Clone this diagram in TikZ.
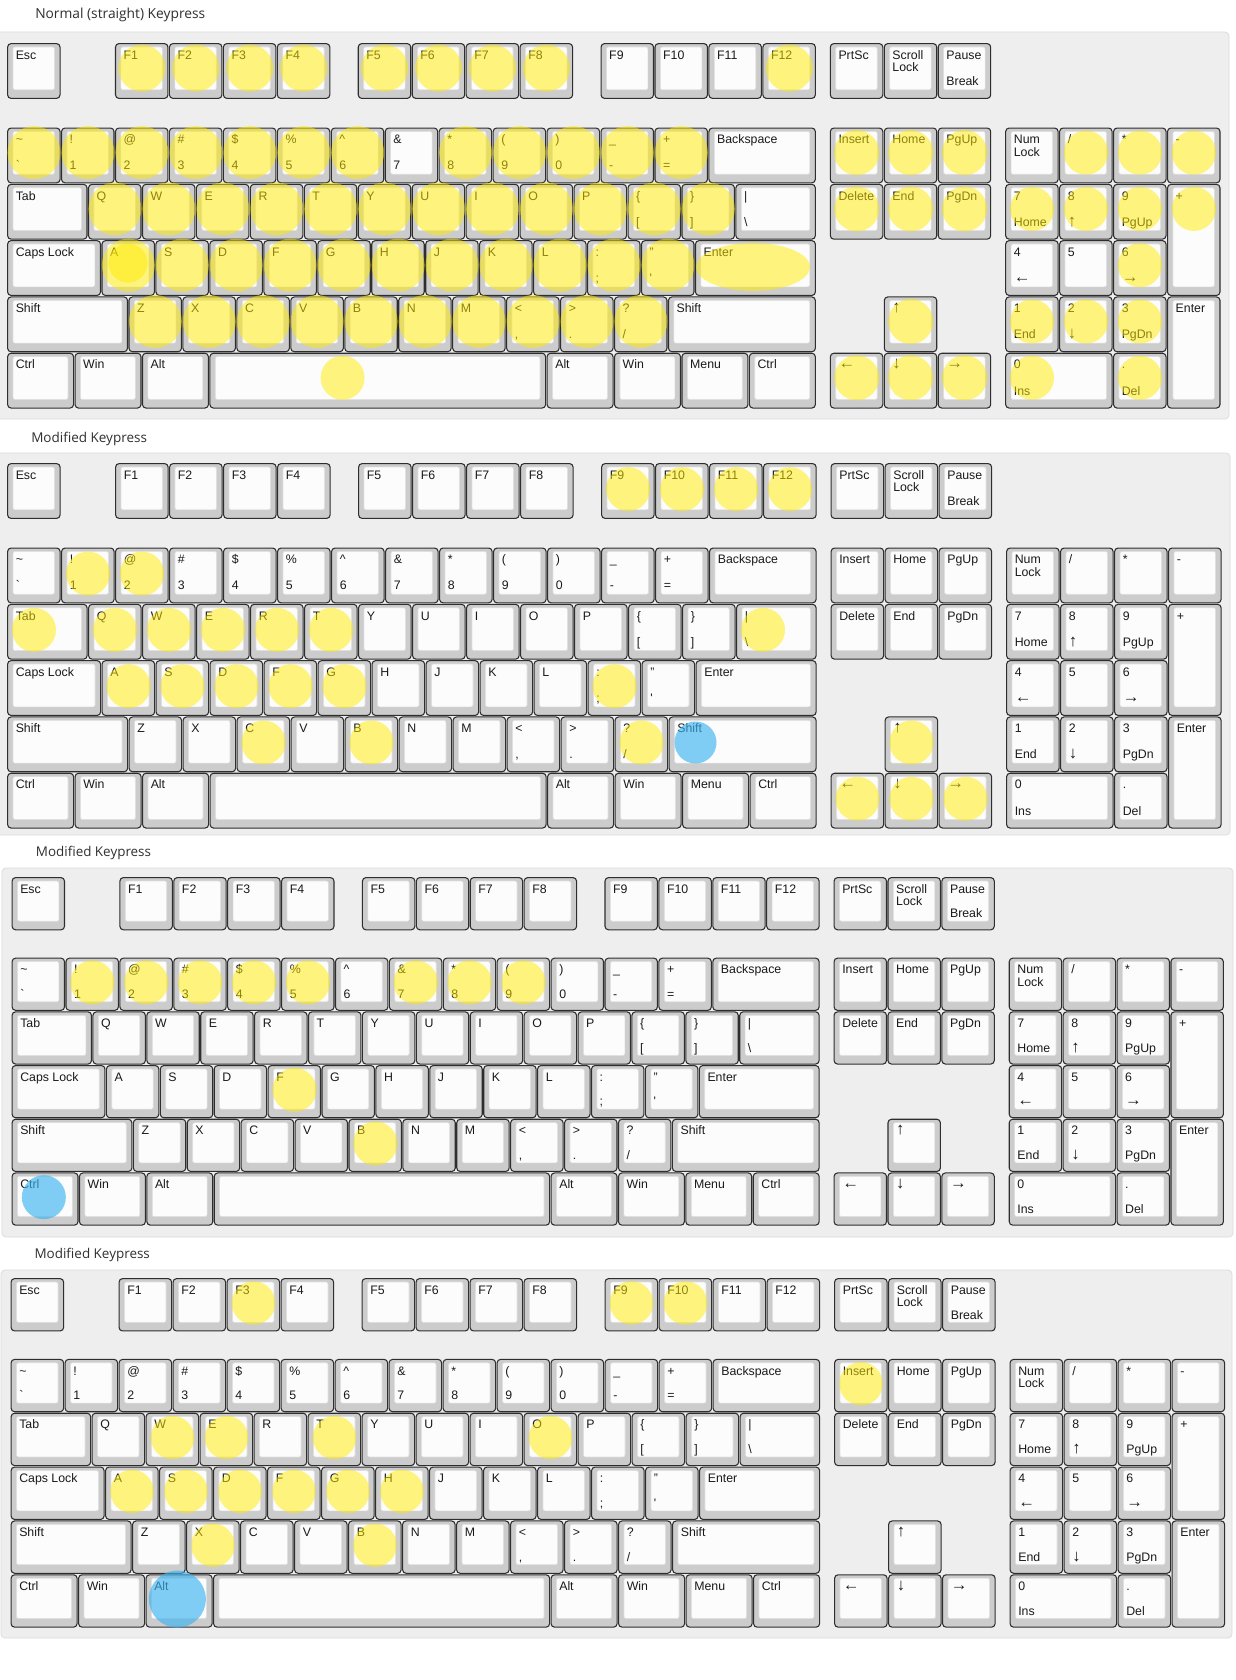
\documentclass[tikz,border=0pt]{standalone}
\usepackage{fontspec}
\usepackage{graphicx}
\setmainfont{Liberation Sans}
\newfontfamily\titlefont{Open Sans}

\definecolor{panel}{HTML}{EEEEEE}
\definecolor{paneledge}{HTML}{DCDCDC}
\definecolor{rim}{HTML}{CCCCCC}
\definecolor{cap}{HTML}{FCFCFC}
\definecolor{capedge}{HTML}{E0E0E0}
\definecolor{edge}{HTML}{2E2E2E}
\definecolor{labc}{HTML}{1A1A1A}
\definecolor{titlec}{HTML}{303030}
\definecolor{hly}{RGB}{255,235,0}
\definecolor{hlb}{RGB}{60,180,240}

\tikzset{
  keyouter/.style={fill=rim, draw=edge, line width=0.8pt, rounded corners=2.6pt},
  keyinner/.style={fill=cap, draw=capedge, line width=0.5pt, rounded corners=1.5pt},
  keylab/.style={anchor=base west, inner sep=0pt, font=\fontsize{9.25}{11}\selectfont, text=labc},
  hlyel/.style={fill=hly, fill opacity=0.5},
  hlblue/.style={fill=hlb, fill opacity=0.65},
  panelbox/.style={fill=panel, draw=paneledge, line width=0.6pt, rounded corners=3pt},
  titletext/.style={anchor=base west, inner sep=0pt, text=titlec},
}

\newcommand\arr[1]{{\fontsize{12.5}{12.5}\selectfont #1}}

\newcount\labn
\newcommand\SetKB[5]{\def\kbx{#1}\def\kby{#2}\def\kbu{#3}\def\kbv{#4}\def\kbdy{#5}}
% x y w h top bottom
\newcommand\Key[6]{%
  \pgfmathsetmacro\kxa{\kbx+(#1)*\kbu}%
  \pgfmathsetmacro\kya{\kby+(#2)*\kbv}%
  \pgfmathsetmacro\kxb{\kxa+(#3)*\kbu}%
  \pgfmathsetmacro\kyb{\kya+(#4)*\kbv}%
  \pgfmathsetmacro\kyc{\kya+0.59*\kbv+9.3}%
  \filldraw[keyouter] (\kxa+0.6,\kya+0.6) rectangle (\kxb-0.9,\kyb-0.9);
  \filldraw[keyinner] (\kxa+6,\kya+4) rectangle (\kxb-6.5,\kyb-9.5);
  \global\advance\labn by 1
  \node[keylab] (L\the\labn) at (\kxa+8.5,\kya+16.3) {#5};
  \global\advance\labn by 1
  \node[keylab] (L\the\labn) at (\kxa+8.5,\kyc) {#6};
}
\newcommand\K[4]{\Key{#1}{#2}{1}{1}{#3}{#4}}
\newcommand\Lb[2]{%
  \global\advance\labn by 1
  \node[keylab] (L\the\labn) at (\kxa+8.5,\kya+#1) {#2};}
\newcommand\HL[3]{%
  \pgfmathsetmacro\hcx{\kbx+(#1)*\kbu}%
  \pgfmathsetmacro\hcy{\kby+(#2)*\kbv+(\kbdy)}%
  \fill[hlyel] (\hcx,\hcy) circle[radius=#3];}
\newcommand\HB[3]{%
  \pgfmathsetmacro\hcx{\kbx+(#1)*\kbu}%
  \pgfmathsetmacro\hcy{\kby+(#2)*\kbv+(\kbdy)}%
  \fill[hlblue] (\hcx,\hcy) circle[radius=#3];}

\newcommand\AllKeys{%
  % function row
  \K{0}{0}{Esc}{}%
  \K{2}{0}{F1}{}\K{3}{0}{F2}{}\K{4}{0}{F3}{}\K{5}{0}{F4}{}%
  \K{6.5}{0}{F5}{}\K{7.5}{0}{F6}{}\K{8.5}{0}{F7}{}\K{9.5}{0}{F8}{}%
  \K{11}{0}{F9}{}\K{12}{0}{F10}{}\K{13}{0}{F11}{}\K{14}{0}{F12}{}%
  \K{15.25}{0}{PrtSc}{}\K{16.25}{0}{Scroll}{}\Lb{28.8}{Lock}\K{17.25}{0}{Pause}{Break}%
  % number row
  \K{0}{1.5}{\textasciitilde}{\textasciigrave}\K{1}{1.5}{!}{1}\K{2}{1.5}{@}{2}\K{3}{1.5}{\#}{3}%
  \K{4}{1.5}{\$}{4}\K{5}{1.5}{\%}{5}\K{6}{1.5}{\textasciicircum}{6}\K{7}{1.5}{\&}{7}%
  \K{8}{1.5}{*}{8}\K{9}{1.5}{(}{9}\K{10}{1.5}{)}{0}\K{11}{1.5}{\_}{-}\K{12}{1.5}{+}{=}%
  \Key{13}{1.5}{2}{1}{Backspace}{}%
  \K{15.25}{1.5}{Insert}{}\K{16.25}{1.5}{Home}{}\K{17.25}{1.5}{PgUp}{}%
  \K{18.5}{1.5}{Num}{}\Lb{28.8}{Lock}\K{19.5}{1.5}{/}{}\K{20.5}{1.5}{*}{}\K{21.5}{1.5}{-}{}%
  % tab row
  \Key{0}{2.5}{1.5}{1}{Tab}{}%
  \K{1.5}{2.5}{Q}{}\K{2.5}{2.5}{W}{}\K{3.5}{2.5}{E}{}\K{4.5}{2.5}{R}{}\K{5.5}{2.5}{T}{}%
  \K{6.5}{2.5}{Y}{}\K{7.5}{2.5}{U}{}\K{8.5}{2.5}{I}{}\K{9.5}{2.5}{O}{}\K{10.5}{2.5}{P}{}%
  \K{11.5}{2.5}{\{}{[}\K{12.5}{2.5}{\}}{]}\Key{13.5}{2.5}{1.5}{1}{|}{\textbackslash}%
  \K{15.25}{2.5}{Delete}{}\K{16.25}{2.5}{End}{}\K{17.25}{2.5}{PgDn}{}%
  \K{18.5}{2.5}{7}{Home}\K{19.5}{2.5}{8}{\arr{↑}}\K{20.5}{2.5}{9}{PgUp}\Key{21.5}{2.5}{1}{2}{+}{}%
  % caps row
  \Key{0}{3.5}{1.75}{1}{Caps Lock}{}%
  \K{1.75}{3.5}{A}{}\K{2.75}{3.5}{S}{}\K{3.75}{3.5}{D}{}\K{4.75}{3.5}{F}{}\K{5.75}{3.5}{G}{}%
  \K{6.75}{3.5}{H}{}\K{7.75}{3.5}{J}{}\K{8.75}{3.5}{K}{}\K{9.75}{3.5}{L}{}%
  \K{10.75}{3.5}{:}{;}\K{11.75}{3.5}{"}{\textquotesingle}\Key{12.75}{3.5}{2.25}{1}{Enter}{}%
  \K{18.5}{3.5}{4}{\arr{←}}\K{19.5}{3.5}{5}{}\K{20.5}{3.5}{6}{\arr{→}}%
  % shift row
  \Key{0}{4.5}{2.25}{1}{Shift}{}%
  \K{2.25}{4.5}{Z}{}\K{3.25}{4.5}{X}{}\K{4.25}{4.5}{C}{}\K{5.25}{4.5}{V}{}\K{6.25}{4.5}{B}{}%
  \K{7.25}{4.5}{N}{}\K{8.25}{4.5}{M}{}\K{9.25}{4.5}{<}{,}\K{10.25}{4.5}{>}{.}\K{11.25}{4.5}{?}{/}%
  \Key{12.25}{4.5}{2.75}{1}{Shift}{}%
  \K{16.25}{4.5}{\arr{↑}}{}%
  \K{18.5}{4.5}{1}{End}\K{19.5}{4.5}{2}{\arr{↓}}\K{20.5}{4.5}{3}{PgDn}\Key{21.5}{4.5}{1}{2}{Enter}{}%
  % bottom row
  \Key{0}{5.5}{1.25}{1}{Ctrl}{}\Key{1.25}{5.5}{1.25}{1}{Win}{}\Key{2.5}{5.5}{1.25}{1}{Alt}{}%
  \Key{3.75}{5.5}{6.25}{1}{}{}%
  \Key{10}{5.5}{1.25}{1}{Alt}{}\Key{11.25}{5.5}{1.25}{1}{Win}{}\Key{12.5}{5.5}{1.25}{1}{Menu}{}\Key{13.75}{5.5}{1.25}{1}{Ctrl}{}%
  \K{15.25}{5.5}{\arr{←}}{}\K{16.25}{5.5}{\arr{↓}}{}\K{17.25}{5.5}{\arr{→}}{}%
  \Key{18.5}{5.5}{2}{1}{0}{Ins}\K{20.5}{5.5}{.}{Del}%
}

\begin{document}
\begin{tikzpicture}[x=0.75pt,y=-0.75pt]
\useasboundingbox (0,0) rectangle (1235,1680);
\fill[white] (0,0) rectangle (1235,1680);

% panels
\filldraw[panelbox] (-4,32) rectangle (1229,419);
\filldraw[panelbox] (-4,453) rectangle (1230,835);
\filldraw[panelbox] (2,868) rectangle (1233,1237);
\filldraw[panelbox] (1,1270) rectangle (1232,1638);

% titles
\node[titletext] (t1) at (35,18.7) {\resizebox{127.5pt}{!}{\titlefont Normal (straight) Keypress}};
\node[titletext] (t2) at (31,442.3) {\resizebox{86.8pt}{!}{\titlefont Modified Keypress}};
\node[titletext] (t3) at (35.7,856.7) {\resizebox{86.3pt}{!}{\titlefont Modified Keypress}};
\node[titletext] (t4) at (34.3,1258.8) {\resizebox{86.5pt}{!}{\titlefont Modified Keypress}};

% ===== keyboard 1 =====
\SetKB{7}{43}{53.95}{56.3}{-3}
\AllKeys
\foreach \q in {2.5,3.5,4.5,5.5,7,8,9,10,14.5}{\HL{\q}{0.5}{23.5}}
\foreach \q in {0.5,1.5,2.5,3.5,4.5,5.5,6.5,8.5,9.5,10.5,11.5,12.5}{\HL{\q}{2.0}{26.5}}
\foreach \q in {2,3,4,5,6,7,8,9,10,11,12,13}{\HL{\q}{3.0}{26.5}}
\foreach \q in {2.25,3.25,4.25,5.25,6.25,7.25,8.25,9.25,10.25,11.25,12.25}{\HL{\q}{4.0}{26.5}}
\foreach \q in {2.75,3.75,4.75,5.75,6.75,7.75,8.75,9.75,10.75,11.75}{\HL{\q}{5.0}{26.5}}
\foreach \q in {15.75,16.75,17.75}{\HL{\q}{2.0}{22.5}\HL{\q}{3.0}{22.5}\HL{\q}{6.0}{22.5}}
\HL{16.75}{5.0}{22.5}
\foreach \q in {20,21,22}{\HL{\q}{2.0}{22}}
\foreach \q in {19,20,21,22}{\HL{\q}{3.0}{22}}
\HL{21}{4.0}{22}
\foreach \q in {19,20,21}{\HL{\q}{5.0}{22}}
\HL{19}{6.0}{22}\HL{21}{6.0}{22}
\HL{6.22}{6.0}{22}
\fill[hlyel] (128,263) circle[radius=19.5];
\fill[hlyel] (753,267) ellipse[x radius=57, y radius=24];

% ===== keyboard 2 =====
\SetKB{7}{463}{54}{56.3}{-2}
\AllKeys
\foreach \q in {11.5,12.5,13.5,14.5}{\HL{\q}{0.5}{22}}
\HL{1.5}{2.0}{22}\HL{2.5}{2.0}{22}
\foreach \q in {0.5,2,3,4,5,6,14}{\HL{\q}{3.0}{22}}
\foreach \q in {2.25,3.25,4.25,5.25,6.25,11.25}{\HL{\q}{4.0}{22}}
\foreach \q in {4.75,6.75,11.75,16.75}{\HL{\q}{5.0}{22}}
\HB{12.75}{5.0}{21}
\foreach \q in {15.75,16.75,17.75}{\HL{\q}{6.0}{22}}

% ===== keyboard 3 =====
\SetKB{11.5}{877}{53.9}{53.7}{-2}
\AllKeys
\foreach \q in {1.5,2.5,3.5,4.5,5.5,7.5,8.5,9.5}{\HL{\q}{2.0}{22}}
\HL{5.25}{4.0}{22}
\HL{6.75}{5.0}{22}
\HB{0.6}{6.0}{22}

% ===== keyboard 4 =====
\SetKB{10.5}{1278}{54}{53.85}{-2}
\AllKeys
\foreach \q in {4.5,11.5,12.5}{\HL{\q}{0.5}{21.7}}
\HL{15.75}{2.0}{21.7}
\foreach \q in {3,4,6,10}{\HL{\q}{3.0}{21.7}}
\foreach \q in {2.25,3.25,4.25,5.25,6.25,7.25}{\HL{\q}{4.0}{21.7}}
\HL{3.75}{5.0}{21.7}\HL{6.75}{5.0}{21.7}
\HB{3.09}{6.0}{28.5}
\end{tikzpicture}
\end{document}
